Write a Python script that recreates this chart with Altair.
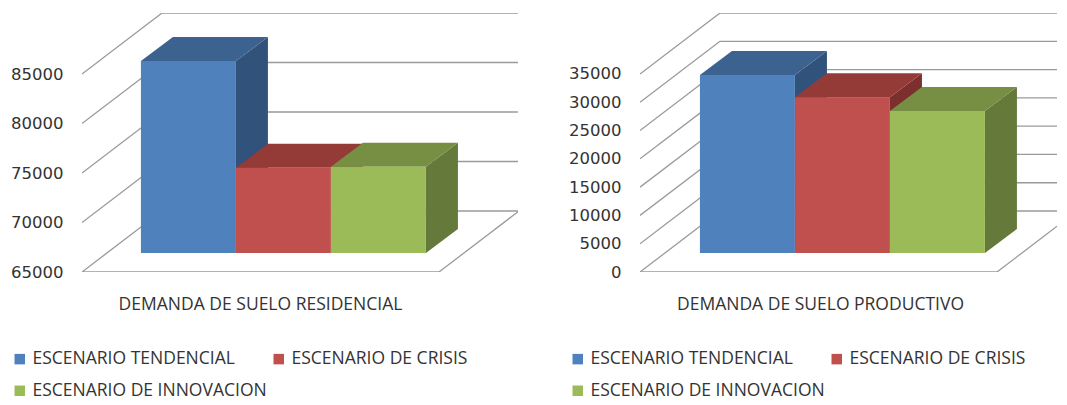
import altair as alt
import pandas as pd

scenarios = ["ESCENARIO TENDENCIAL", "ESCENARIO DE CRISIS", "ESCENARIO DE INNOVACION"]
front_colors = ["#4F81BD", "#C0504D", "#9BBB59"]
top_colors = ["#3C6290", "#943B38", "#768F42"]
side_colors = ["#31527B", "#7D2F2D", "#64793A"]

residential_values = [84400, 73600, 73700]
residential_ticks = [65000, 70000, 75000, 80000, 85000]
productive_values = [31450, 27550, 25080]
productive_ticks = [0, 5000, 10000, 15000, 20000, 25000, 30000, 35000]

PX_W = 95.0
FONT_AXIS = "DejaVu Sans"
FONT_TEXT = "Open Sans"
GRID = "#9a9a9a"


def panel(values, ticks, title, width, floor_w, tick_px, title_x=178, start=34 / 95, view_h=259,
          back_dx=80, back_dy=61, bar_front_frac=19 / 61, bar_dx=32, bar_dy=24):
    step = ticks[1] - ticks[0]
    per_px = step / tick_px
    base = ticks[0]
    top_val = ticks[-1] + back_dy * per_px
    dep_x = back_dx / PX_W
    dep_y = back_dy * per_px
    x_enc = alt.X("x:Q", scale=alt.Scale(domain=[0, width / PX_W], nice=False, zero=False),
                  axis=alt.Axis(title=title, titleFont=FONT_TEXT, titleFontSize=17.5, titleFontWeight="normal",
                                titleColor="#333333", labels=False, ticks=False, domain=False, grid=False,
                                titlePadding=23, titleX=title_x))
    y_enc = alt.Y("y:Q", scale=alt.Scale(domain=[base, top_val], nice=False, zero=False),
                  axis=alt.Axis(title=None, values=ticks, ticks=False, domain=False, grid=False,
                                labelFont=FONT_AXIS, labelFontSize=16.5, labelColor="#333333",
                                labelPadding=19, format="d"))

    rows = []
    fw = floor_w / PX_W
    for t in ticks:
        rows += [{"k": f"l{t}", "x": 0, "y": t}, {"k": f"l{t}", "x": dep_x, "y": t + dep_y}]
        rows += [{"k": f"b{t}", "x": dep_x, "y": t + dep_y}, {"k": f"b{t}", "x": fw + dep_x, "y": t + dep_y}]
    rows += [{"k": "f1", "x": 0, "y": base}, {"k": "f1", "x": fw, "y": base},
             {"k": "f2", "x": fw, "y": base}, {"k": "f2", "x": fw + dep_x, "y": base + dep_y}]
    walls = alt.Chart(pd.DataFrame(rows)).mark_line(color=GRID, strokeWidth=1.3, clip=True).encode(
        x=x_enc, y=y_enc, detail="k:N")

    layers = [walls]
    x0 = start + bar_front_frac * dep_x
    lift = bar_front_frac * dep_y
    y0 = base + lift
    bx = bar_dx / PX_W
    by = bar_dy * per_px
    for i, (name, v0) in enumerate(zip(scenarios, values)):
        l, r = x0 + i, x0 + i + 1
        v = v0 + lift
        side = pd.DataFrame([{"x": r, "y": v, "y2": y0}, {"x": r + bx, "y": v + by, "y2": y0 + by}])
        top = pd.DataFrame([{"y": v, "x": l, "x2": r}, {"y": v + by, "x": l + bx, "x2": r + bx}])
        front = pd.DataFrame([{"s": name, "x": l, "x2": r, "y": v, "y2": y0}])
        layers.append(alt.Chart(side).mark_area(color=side_colors[i], orient="vertical", clip=True).encode(
            x=x_enc, y=y_enc, y2="y2:Q"))
        layers.append(alt.Chart(top).mark_area(color=top_colors[i], orient="horizontal", clip=True).encode(
            y=y_enc, x=x_enc, x2="x2:Q"))
        layers.append(alt.Chart(front).mark_rect(clip=True).encode(
            x=x_enc, x2="x2:Q", y=y_enc, y2="y2:Q",
            color=alt.Color("s:N",
                            scale=alt.Scale(domain=scenarios, range=front_colors),
                            legend=alt.Legend(title=None, orient="none", legendX=-71, legendY=337,
                                              columns=2, direction="horizontal", symbolType="square", symbolSize=110,
                                              symbolStrokeWidth=0, labelFont=FONT_TEXT, labelFontSize=17.5,
                                              labelColor="#333333", columnPadding=3, rowPadding=13,
                                              labelLimit=300, gridAlign="each", values=scenarios))))
    return alt.layer(*layers).resolve_scale(color="shared").properties(width=width, height=view_h)


left = panel(residential_values, residential_ticks, "DEMANDA DE SUELO RESIDENCIAL", 436, 357, 49.5)
right = panel(productive_values, productive_ticks, "DEMANDA DE SUELO PRODUCTIVO", 417, 357, 28.3,
              title_x=180, start=35 / 95)

chart = alt.hconcat(left, right, spacing=50).resolve_scale(color="independent", x="independent", y="independent"
    ).properties(padding={"left": 2, "top": 5, "right": 0, "bottom": 0}, background="white"
    ).configure_view(stroke=None)

chart.save("out.html", embed_options={"renderer": "svg", "actions": False})
